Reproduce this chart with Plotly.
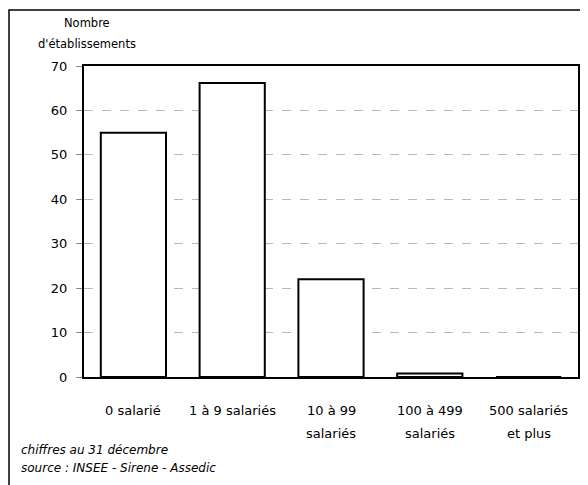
import plotly.graph_objects as go

categories = ["0 salarié", "1 à 9 salariés", "10 à 99<br>salariés", "100 à 499<br>salariés", "500 salariés<br>et plus"]
values = [55, 66.2, 22, 0.8, 0]
y_ticks = [0, 10, 20, 30, 40, 50, 60, 70]
y_title_lines = ["Nombre", "d'établissements"]
note_lines = ["chiffres au 31 décembre", "source : INSEE - Sirene - Assedic"]

FONT = "DejaVu Sans"
OFF = 8  # page body margin
W, H = 588 - OFF, 485 - OFF
# plot area in reference pixel coords: x 84..578, y 66..377
L, R, T, B = 84 - OFF, W - (578 - OFF), 66 - OFF, H - (377 - OFF)
PW, PH = W - L - R, H - T - B

def px_x(x):
    return (x - OFF - L) / PW

def px_y(y):
    return (H - B - (y - OFF)) / PH

fig = go.Figure()
fig.add_trace(go.Bar(
    x=categories, y=values,
    marker=dict(color="white", line=dict(color="black", width=2)),
    width=0.66,
))

fig.update_layout(
    width=W, height=H,
    margin=dict(l=L, r=R, t=T, b=B, autoexpand=False),
    paper_bgcolor="white", plot_bgcolor="white",
    font=dict(family=FONT, size=13, color="black"),
    showlegend=False,
)
fig.update_xaxes(
    showline=True, linecolor="black", linewidth=2, mirror=True,
    ticks="", showgrid=False, showticklabels=False, automargin=False,
)
fig.update_yaxes(
    range=[0, 70], tickvals=y_ticks,
    showline=True, linecolor="black", linewidth=2, mirror=True,
    ticks="outside", ticklen=6, tickcolor="#888", tickwidth=1,
    showgrid=True, gridcolor="#b8b8b8", griddash="dash", gridwidth=1,
    zeroline=False, tickfont=dict(size=13), ticklabelstandoff=6,
    automargin=False,
)

# outer frame
fig.add_shape(type="rect", xref="paper", yref="paper",
              x0=px_x(9), x1=px_x(586), y0=px_y(500), y1=px_y(10),
              line=dict(color="black", width=1.5), fillcolor="rgba(0,0,0,0)", layer="below")

# category labels (two-line, wider spacing like the reference)
for cat in categories:
    parts = cat.split("<br>")
    for i, line in enumerate(parts):
        fig.add_annotation(text=line, x=cat, xref="x", yref="paper",
                           y=px_y(410 + 23 * i), xanchor="center", yanchor="middle",
                           showarrow=False, font=dict(size=13))

for i, line in enumerate(y_title_lines):
    fig.add_annotation(text=line, xref="paper", yref="paper",
                       x=px_x(87), y=px_y(23 + 21 * i), xanchor="center", yanchor="middle",
                       showarrow=False, font=dict(size=11.5))

for i, line in enumerate(note_lines):
    fig.add_annotation(text="<i>" + line + "</i>", xref="paper", yref="paper",
                       x=px_x(19), y=px_y(450 + 18 * i), xanchor="left", yanchor="middle",
                       showarrow=False, font=dict(size=12))

fig.write_html("out.html")
